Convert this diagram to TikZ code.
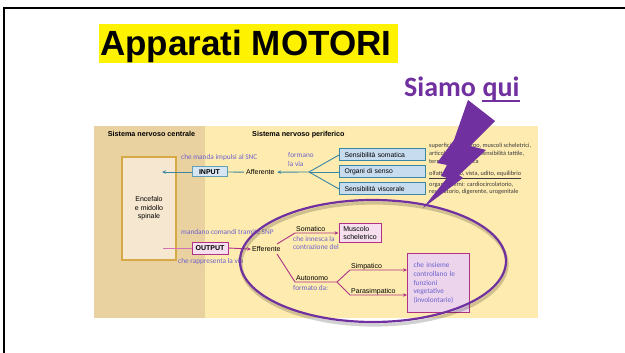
\documentclass[tikz,border=0pt]{standalone}
\usepackage{fontspec}
\setmainfont{Liberation Sans}
\newfontfamily\calib{Carlito}
\usetikzlibrary{arrows.meta}
\definecolor{purp}{RGB}{112,48,160}
\definecolor{notec}{RGB}{108,98,205}
\definecolor{tanc}{RGB}{234,209,160}
\definecolor{creamc}{RGB}{254,235,175}
\definecolor{encfill}{RGB}{246,231,208}
\definecolor{encdraw}{RGB}{215,168,70}
\definecolor{tealc}{RGB}{58,135,165}
\definecolor{bluefill}{RGB}{200,220,240}
\definecolor{inpfill}{RGB}{215,230,242}
\definecolor{magc}{RGB}{176,50,135}
\definecolor{magl}{RGB}{212,112,180}
\definecolor{pinkfill}{RGB}{246,224,240}
\definecolor{rfill}{RGB}{236,212,236}
\definecolor{graytext}{RGB}{60,60,60}
\begin{document}
\begin{tikzpicture}[x=1pt,y=-1pt,
  lbl/.style={font=\fontsize{7}{8}\selectfont, inner sep=0pt, anchor=mid west},
  hdr/.style={font=\bfseries\fontsize{7.2}{8}\selectfont, inner sep=0pt},
  note/.style={font=\calib\fontsize{7.3}{8.5}\selectfont, text=notec, inner sep=0pt, anchor=mid west},
  smalltxt/.style={font=\calib\fontsize{6.3}{7}\selectfont, text=graytext, inner sep=0pt, anchor=mid west},
  bluebox/.style={draw=tealc, fill=bluefill, line width=1pt, minimum height=12pt, text width=76pt, inner xsep=5pt, inner ysep=0pt, align=left, anchor=west, font=\fontsize{6.8}{8}\selectfont},
  pinkbox/.style={draw=magc, fill=pinkfill, line width=1pt, inner sep=0pt, font=\fontsize{7}{8}\selectfont},
  tealline/.style={draw=tealc, line width=0.9pt},
  magline/.style={draw=magc, line width=0.9pt},
  tip/.style={-{Stealth[length=4pt,width=3.4pt]}}
]
\useasboundingbox (0,0) rectangle (625,353);
\fill[white] (0,0) rectangle (625,353);
% frame
\draw[line width=2.3pt] (4.3,360) -- (4.3,8.3) -- (630,8.3);
% title
\fill[yellow] (99,24) rectangle (398,63);
\node[font=\bfseries\fontsize{35}{40}\selectfont, inner sep=0pt, anchor=base west] (title) at (100,56) {Apparati MOTORI};
% Siamo qui
\node[font=\calib\bfseries\fontsize{28}{32}\selectfont, text=purp, inner sep=0pt, anchor=base west] (siamo) at (404,97) {Siamo};
\node[font=\calib\bfseries\fontsize{28}{32}\selectfont, text=purp, inner sep=0pt, anchor=base west] (qui) at ([xshift=6.3pt]siamo.base east) {qui};
\draw[purp, line width=1.8pt] ([yshift=-4.3pt]qui.base west) -- ([yshift=-4.3pt]qui.base east);
% panel
\fill[creamc] (94,126) rectangle (538,318);
\fill[tanc] (94,126) rectangle (205,318);
\node[hdr] (snc) at (151.5,134) {Sistema nervoso centrale};
\node[hdr, anchor=mid west] (snp) at (252,134) {Sistema nervoso periferico};
% Encefalo
\node[draw=encdraw, fill=encfill, line width=1.1pt, minimum width=54pt, minimum height=103pt, inner sep=0pt, align=center, font=\fontsize{7}{8.5}\selectfont] (enc) at (149,208.5) {Encefalo\\e midollo\\spinale};
% afferent
\node[draw=tealc!80, fill=inpfill, line width=1pt, minimum width=35pt, minimum height=10pt, inner sep=0pt, font=\bfseries\fontsize{7}{8}\selectfont] (inp) at (209.5,172) {INPUT};
\coordinate (inpEnd) at (162,172);
\node[lbl] (aff) at (246,172) {Afferente};
\coordinate (fork) at (309,172);
\node[bluebox] (ss) at (339,155) {Sensibilità somatica};
\node[bluebox] (os) at (339,172) {Organi di senso};
\node[bluebox] (sv) at (339,189) {Sensibilità viscerale};
\draw[tealline, tip] (inp.west) -- (inpEnd);
\draw[tealline] (inp.east) -- ([xshift=-2pt]aff.west);
\draw[tealline, tip] (fork) -- ([xshift=2.5pt]aff.east);
\draw[tealline] (fork) -- (ss.west);
\draw[tealline] (fork) -- (os.west);
\draw[tealline] (fork) -- (sv.west);
\node[note] (n1) at (181,157) {che manda impulsi al SNC};
\node[note] (n2) at (288,155) {formano};
\node[note] (n3) at (288,164) {la via};
% right texts
\node[smalltxt] (t1) at (429,145) {superficie del corpo, muscoli scheletrici,};
\node[smalltxt] (t2) at (429,153) {articolazioni, fascia, sensibilità tattile,};
\node[smalltxt] (t3) at (429,161) {termica e dolorifica};
\node[smalltxt] (t4) at (429,173) {\underline{olfatto, gusto, vista, udito, equilibrio}};
\node[smalltxt] (t5) at (429,184) {organi interni: cardiocircolatorio,};
\node[smalltxt] (t6) at (429,191) {respiratorio, digerente, urogenitale};
% efferent
\node[pinkbox, minimum width=36pt, minimum height=12pt, font=\bfseries\fontsize{7}{8}\selectfont] (out) at (210,248) {OUTPUT};
\coordinate (encOut) at (163,248);
\node[lbl] (eff) at (252,249) {Efferente};
\draw[draw=magl, line width=0.9pt] (encOut) -- (out.west);
\draw[magline, tip] (out.east) -- ([xshift=-1pt]eff.west);
\node[note] (n4) at (181,232) {mandano comandi tramite SNP};
\node[note] (n5) at (178,261) {che rappresenta la via};
\node[pinkbox, minimum width=42pt, minimum height=19pt, align=left] (mus) at (360,232.5) {Muscolo\\scheletrico};
\node[lbl, anchor=base west] (som) at (296,231) {Somatico};
\node[note] (n6) at (293,238.5) {che innesca la};
\node[note] (n7) at (293,247) {contrazione del};
\coordinate (s1) at (277,244);
\coordinate (s2) at (295,233);
\draw[magline, tip] (s1) -- (s2) -- (s2 -| mus.west);
\node[lbl, anchor=base west] (aut) at (296,280) {Autonomo};
\node[note] (n8) at (293,288) {formato da:};
\coordinate (a1) at (277,254);
\coordinate (a2) at (295,282);
\coordinate (afork) at (337,282);
\node[draw=magc, fill=rfill, line width=1pt, minimum width=62pt, minimum height=59pt, text width=50pt, inner xsep=6pt, inner ysep=0pt, align=left, font=\calib\fontsize{7.3}{8.75}\selectfont, text=notec, anchor=north west] (rbox) at (407,253) {che insieme\\controllano le\\funzioni\\vegetative\\(involontarie)};
\coordinate (b1) at (350,270);
\coordinate (b2) at (350,295);
\draw[magline] (a1) -- (a2) -- (afork);
\draw[magline, tip] (afork) -- (b1) -- (b1 -| rbox.west);
\draw[magline, tip] (afork) -- (b2) -- (b2 -| rbox.west);
\node[lbl, anchor=base west] (simp) at (351,268) {Simpatico};
\node[lbl, anchor=base west] (para) at (351,293.5) {Parasimpatico};
% ellipse with shadow
\draw[black, opacity=0.18, line width=3.2pt] (374,264) ellipse [x radius=133pt, y radius=61pt];
\draw[purp, line width=2.2pt] (373,261) ellipse [x radius=133pt, y radius=61pt];
% lightning bolt
\fill[purp] (468,100) -- (495,121) -- (470,146) -- (486,150) -- (459,175) -- (463,178) -- (423,208) -- (447,178) -- (441,176) -- (447,165) -- (437,163) -- (454,140) -- cycle;
\end{tikzpicture}
\end{document}
